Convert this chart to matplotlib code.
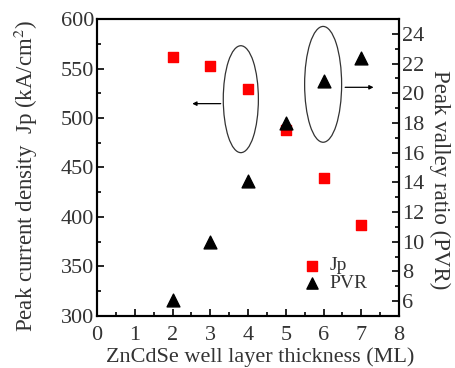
import numpy as np
import matplotlib
matplotlib.use('Agg')
import matplotlib.pyplot as plt
from matplotlib.patches import Ellipse
from matplotlib.ticker import MultipleLocator

plt.rcParams['font.family'] = ['Liberation Serif', 'DejaVu Serif']
plt.rcParams['mathtext.fontset'] = 'stix'

thickness = [2, 3, 4, 5, 6, 7]
jp = [562, 553, 529, 488, 439, 392]
pvr = [6.1, 10.0, 14.1, 18.0, 20.8, 22.4]

fig = plt.figure(figsize=(4.55, 3.68), dpi=100)
ax = fig.add_axes([97/455, 1 - 316/368, 302/455, 297/368])
ax2 = ax.twinx()

ax.scatter(thickness, jp, marker='s', s=60, color='#ff0000', zorder=3)
ax2.scatter(thickness, pvr, marker='^', s=85, color='black', zorder=3)

ax.set_xlim(0, 8)
ax.set_ylim(300, 600)
ax2.set_ylim(5, 25)
ax.xaxis.set_major_locator(MultipleLocator(1))
ax.xaxis.set_minor_locator(MultipleLocator(0.5))
ax.yaxis.set_major_locator(MultipleLocator(50))
ax.yaxis.set_minor_locator(MultipleLocator(25))
ax2.yaxis.set_major_locator(MultipleLocator(2))
ax2.yaxis.set_minor_locator(MultipleLocator(1))

ax.tick_params(axis='both', which='both', direction='in', labelsize=16, width=1.2, pad=2,
               labelcolor='#333333')
ax.tick_params(axis='x', which='both', pad=7)
ax.tick_params(which='major', length=5)
ax.tick_params(which='minor', length=3)
ax2.tick_params(which='both', direction='in', labelsize=16, width=1.2, pad=2,
                labelcolor='#333333')
ax2.tick_params(which='major', length=5)
ax2.tick_params(which='minor', length=3)
for a in (ax, ax2):
    for s in a.spines.values():
        s.set_linewidth(1.5)

ax.set_xlabel('ZnCdSe well layer thickness (ML)', fontsize=16, color='#333333')
ax.set_ylabel('Peak current density  Jp (kA/cm$^2$)', fontsize=16.5, color='#333333')
ax2.set_ylabel('Peak valley ratio (PVR)', fontsize=16.5, rotation=270, color='#333333')
ax.xaxis.label.set_va('center')
ax.yaxis.label.set_va('center')
ax2.yaxis.label.set_va('center')
ax.xaxis.set_label_coords(0.54, -0.14)
ax.yaxis.set_label_coords(-0.235, 0.47)
ax2.yaxis.set_label_coords(1.136, 0.458)

# ellipses and arrows (in PVR axis coords)
ax2.add_patch(Ellipse((3.81, 19.6), 0.93, 7.2, fill=False, ec='#333333', lw=0.9, zorder=2))
ax2.add_patch(Ellipse((5.99, 20.6), 0.98, 7.8, fill=False, ec='#333333', lw=0.9, zorder=2))
ax2.annotate('', xy=(2.45, 19.3), xytext=(3.35, 19.3),
             arrowprops=dict(arrowstyle='-|>', lw=0.9, color='black', mutation_scale=6))
ax2.annotate('', xy=(7.4, 20.4), xytext=(6.5, 20.4),
             arrowprops=dict(arrowstyle='-|>', lw=0.9, color='black', mutation_scale=6))

# legend
ax2.scatter([5.7], [8.4], marker='s', s=45, color='#ff0000')
ax2.scatter([5.7], [7.2], marker='^', s=65, color='black')
ax2.text(6.15, 8.4, 'Jp', fontsize=14, va='center', color='#333333')
ax2.text(6.15, 7.2, 'PVR', fontsize=14, va='center', color='#333333')

fig.savefig('out.png', dpi=100)
